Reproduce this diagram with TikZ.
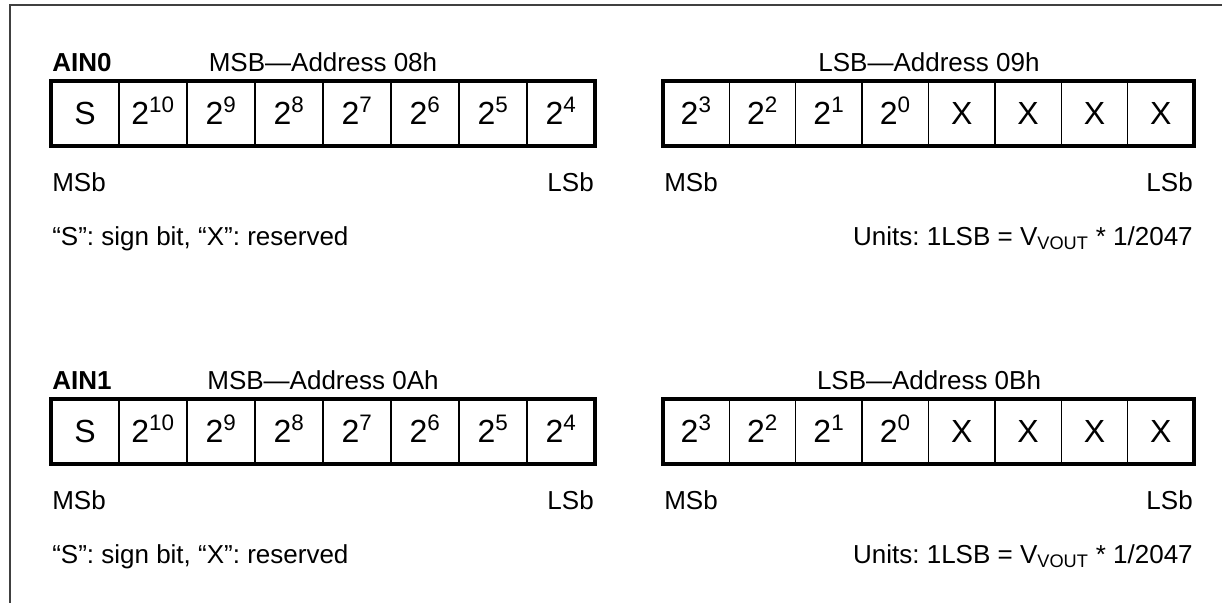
\documentclass[tikz,border=0pt]{standalone}
\usepackage{fontspec}
\setmainfont{Liberation Sans}
\usetikzlibrary{calc}
\frenchspacing
\newcommand{\bitsize}{\fontsize{24}{28}\selectfont}
\newcommand{\lblsize}{\fontsize{19.5}{23}\selectfont}

\tikzset{
  frameline/.style={line width=1.5pt, black!75},
  regbox/.style={line width=2.4pt},
  cell/.style={draw, line width=1.1pt, outer sep=0pt, inner sep=0pt,
    minimum height=48.75pt, text height=17.2pt, text depth=0pt, font=\bitsize},
  lbl/.style={font=\lblsize, inner sep=0pt},
}

\begin{document}
\begin{tikzpicture}[x=0.75pt,y=-0.75pt] % % pixel units, y going down
  \useasboundingbox (0,0) rectangle (1222,603);
  % open frame, left and top only
  \coordinate (fa) at (9.5,603);
  \coordinate (fb) at (9.5,5);
  \coordinate (fc) at (1222,5);
  \draw[frameline] (fa) -- (fb) -- (fc);
  \foreach \blk/\dy/\ain/\hi/\lo in {0/0/AIN0/08h/09h, 1/318/AIN1/0Ah/0Bh}{
    \begin{scope}[shift={(0,\dy)}]
      % MSB register
      \foreach \bitlbl [count=\i from 0] in {S,2\textsuperscript{10},2\textsuperscript{9},2\textsuperscript{8},2\textsuperscript{7},2\textsuperscript{6},2\textsuperscript{5},2\textsuperscript{4}}
        \node[cell, minimum width=51pt] (m\blk-\i) at ({85+68*\i},113.5) {\bitlbl};
      \draw[regbox] (m\blk-0.north west) rectangle (m\blk-7.south east);
      % LSB register
      \foreach \bitlbl [count=\i from 0] in {2\textsuperscript{3},2\textsuperscript{2},2\textsuperscript{1},2\textsuperscript{0},X,X,X,X}
        \node[cell, minimum width=49.78pt] (l\blk-\i) at ({696.19+66.375*\i},113.5) {\bitlbl};
      \draw[regbox] (l\blk-0.north west) rectangle (l\blk-7.south east);
      % headers
      \node[lbl, font=\lblsize\bfseries, anchor=base west] (ain\blk) at (52,71) {\ain};
      \node[lbl, anchor=base] (mhead\blk) at (323,71) {MSB—Address \hi};
      \node[lbl, anchor=base] (lhead\blk) at (929,71) {LSB—Address \lo};
      % bit order
      \node[lbl, anchor=base west] (mmsb\blk) at (52,191) {MSb};
      \node[lbl, anchor=base east] (mlsb\blk) at (594,191) {LSb};
      \node[lbl, anchor=base west] (lmsb\blk) at (664,191) {MSb};
      \node[lbl, anchor=base east] (llsb\blk) at (1193,191) {LSb};
      % notes
      \node[lbl, anchor=base west] (note\blk) at (52,245) {“S”: sign bit, “X”: reserved};
      \node[lbl, anchor=base east] (unit\blk) at (1193,245) {Units: 1LSB = V\textsubscript{VOUT} * 1/2047};
    \end{scope}
  }
\end{tikzpicture}
\end{document}
